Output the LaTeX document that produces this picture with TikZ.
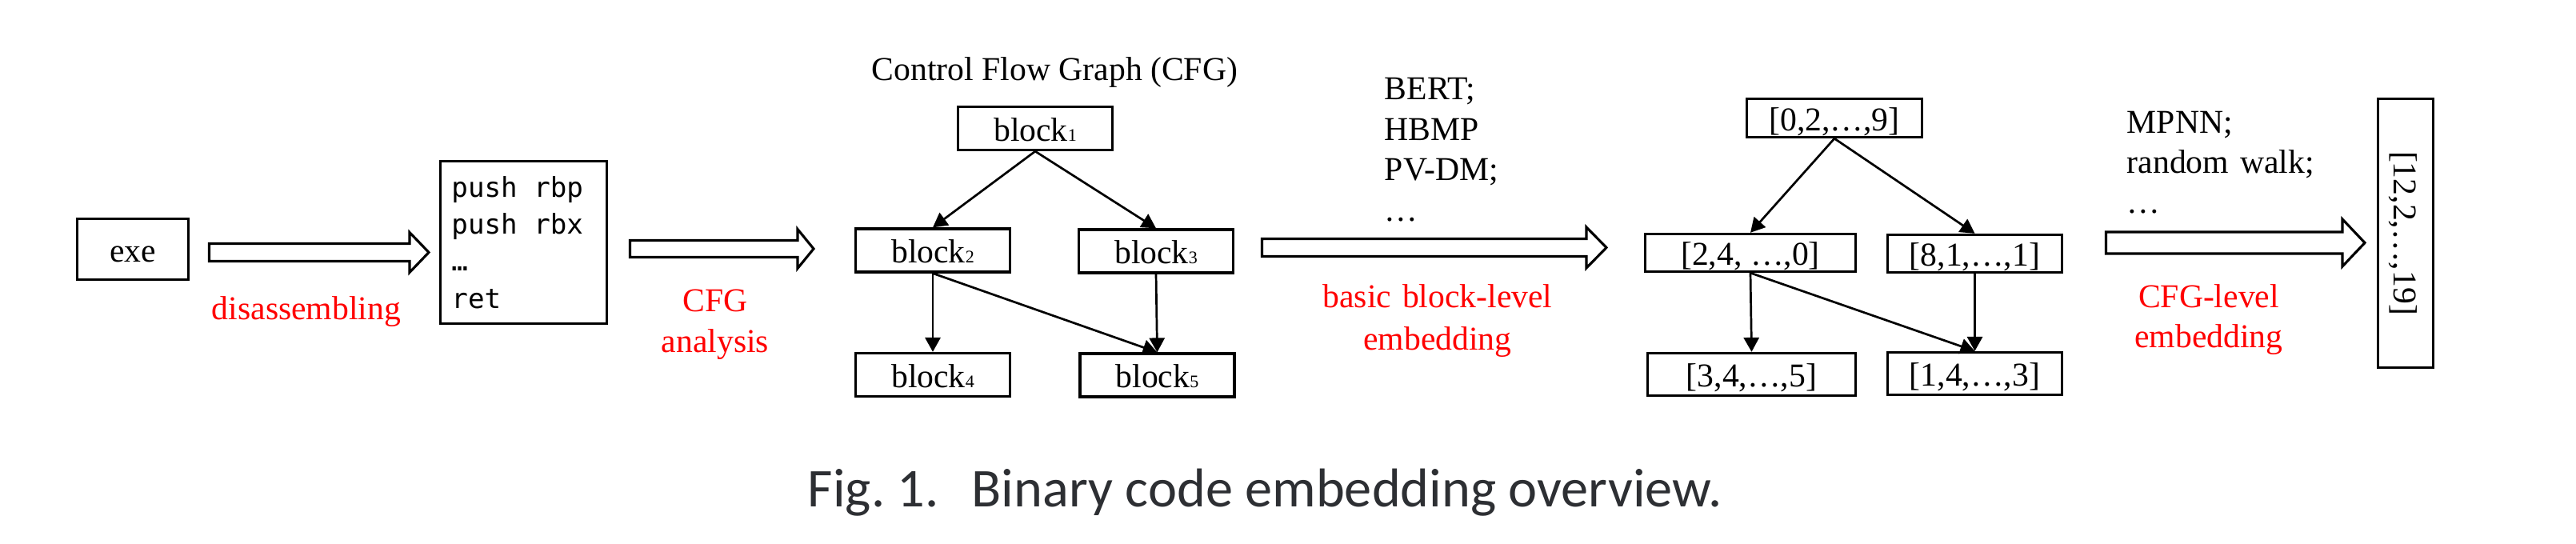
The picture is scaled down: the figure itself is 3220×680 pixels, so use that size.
\documentclass[tikz,border=0pt]{standalone}
\usepackage{graphicx}
\usepackage{fontspec}
\setmainfont{Liberation Serif}
\newfontfamily\redfont[Color=FF0000]{Liberation Serif}
\newfontfamily\asmfont{DejaVu Sans Mono}
\newfontfamily\capfont[Color=2D2F33]{Carlito}
\usetikzlibrary{arrows.meta,calc}
\newcommand\myfatarrow[5]{%
  \draw[fatarrow] ($(#1)+(0,#3)$) -- ($(#2)+(-#5,#3)$) -- ($(#2)+(-#5,#4)$) -- (#2)
    -- ($(#2)+(-#5,-#4)$) -- ($(#2)+(-#5,-#3)$) -- ($(#1)+(0,-#3)$) -- cycle;}
\newcommand\blk[1]{block\scalebox{0.53}{#1}}
\begin{document}
\begin{tikzpicture}[x=0.24pt,y=-0.24pt,
  every node/.style={font=\fontsize{10}{12}\selectfont},
  box/.style={draw, line width=0.8pt, inner sep=0pt, text height=7.5pt, text depth=0pt},
  cfgbox/.style={box, minimum width=46.32pt, minimum height=12.96pt},
  lbl/.style={inner sep=0pt},
  edge/.style={line width=0.65pt, -{Triangle[length=4.3pt,width=4.6pt]}},
  fatarrow/.style={draw, line width=0.75pt, fill=white, line join=miter}]
\useasboundingbox (0,0) rectangle (3220,680);

% stage 1
\node[box, minimum width=33.36pt, minimum height=18.24pt] (exe) at (166,311.5) {exe};
\node[draw, line width=0.8pt, inner sep=0pt, minimum width=49.92pt, minimum height=48.72pt]
      (asm) at (654.5,303)
      {\scalebox{0.82}{\begin{minipage}{52.7pt}\asmfont\fontsize{10}{13.54}\selectfont
       push rbp\\push rbx\\…\\ret\end{minipage}}};

% labels
\node[lbl, anchor=base, font=\redfont\fontsize{10}{12}\selectfont] (dis) at (383,400) {disassembling};
\node[lbl, anchor=base, text width=100pt, align=center, font=\redfont\fontsize{10}{12.24}\selectfont]
  (cfga) at (894,390) {CFG\\analysis};
\node[lbl, anchor=base, text width=100pt, align=center, font=\redfont\fontsize{10}{12.5}\selectfont]
  (bbl) at (1797,385) {basic block-level\\embedding};
\node[lbl, anchor=base, text width=100pt, align=center, font=\redfont\fontsize{10}{12}\selectfont]
  (cfgl) at (2761,385) {CFG-level\\embedding};
\node[anchor=base west, inner sep=0pt, text width=80pt, align=left, font=\fontsize{10}{12.1}\selectfont]
  (bert) at (1730,125) {BERT;\\HBMP\\PV-DM;\\…};
\node[anchor=base west, inner sep=0pt, text width=80pt, align=left, font=\fontsize{10}{12}\selectfont]
  (mpnn) at (2658,167) {MPNN;\\random walk;\\…};

% block arrows
\coordinate (a1s) at (261.5,315.5);  \coordinate (a1e) at (536,315.5);
\coordinate (a2s) at (787.5,311);    \coordinate (a2e) at (1017,311);
\coordinate (a3s) at (1577.5,309.5); \coordinate (a3e) at (2008,309.5);
\coordinate (a4s) at (2632.5,303.5); \coordinate (a4e) at (2956,303.5);
\myfatarrow{a1s}{a1e}{11}{25}{24}
\myfatarrow{a2s}{a2e}{10.5}{24.5}{20}
\myfatarrow{a3s}{a3e}{11}{25.5}{25}
\myfatarrow{a4s}{a4e}{13.5}{29.5}{28}

% CFG
\node[anchor=base, inner sep=0pt] (title) at (1318.5,100.7) {Control Flow Graph (CFG)};
\node[cfgbox] (b1) at (1294,160.5) {\blk{1}};
\node[cfgbox] (b2) at (1166,313) {\blk{2}};
\node[cfgbox] (b3) at (1445,314) {\blk{3}};
\node[cfgbox] (b4) at (1166,468.5) {\blk{4}};
\node[cfgbox] (b5) at (1446.5,469) {\blk{5}};
\draw[edge] (b1.south) -- (b2.north);
\draw[edge] (b1.south) -- (b3.north);
\draw[edge] (b2.south) -- (b4.north);
\draw[edge] (b2.south) -- (b5.north);
\draw[edge] (b3.south) -- (b5.north);

% embedded CFG
\node[box, minimum width=52.56pt, minimum height=11.52pt] (e1) at (2293,147.5) {[0,2,…,9]};
\node[box, minimum width=63.12pt, minimum height=11.28pt] (e2) at (2188,316) {[2,4, …,0]};
\node[box, minimum width=52.32pt, minimum height=11.28pt] (e3) at (2468.5,317) {[8,1,…,1]};
\node[box, minimum width=62.4pt, minimum height=12.72pt] (e4) at (2189.5,468) {[3,4,…,5]};
\node[box, minimum width=52.32pt, minimum height=12.72pt] (e5) at (2468.5,467) {[1,4,…,3]};
\draw[edge] (e1.south) -- (e2.north);
\draw[edge] (e1.south) -- (e3.north);
\draw[edge] (e2.south) -- (e4.north);
\draw[edge] (e2.south) -- (e5.north);
\draw[edge] (e3.south) -- (e5.north);

% final vector
\node[box, rotate=-90, minimum width=80.64pt, minimum height=16.56pt, text height=9pt, text depth=2pt]
  (vec) at (3007,291.5) {[12,2,…,19]};

% caption
\node[anchor=base west, inner sep=0pt, font=\capfont\fontsize{10}{12}\selectfont] (cap) at (1009,634)
  {\scalebox{1.64}{Fig.\ 1.\hspace{0.3em} Binary code embedding overview.}};
\end{tikzpicture}
\end{document}
